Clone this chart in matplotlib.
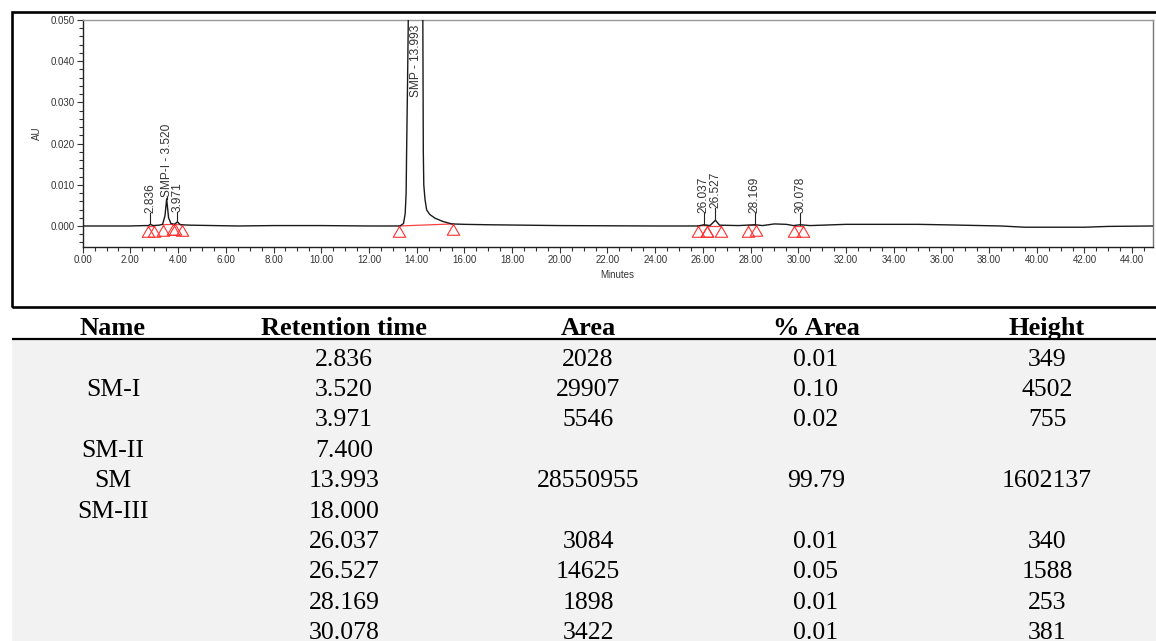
import numpy as np
import matplotlib
matplotlib.use("Agg")
import matplotlib.pyplot as plt
from matplotlib.patches import Rectangle
from matplotlib.ticker import MultipleLocator, FormatStrFormatter

W, H = 1156, 641

# detector trace (minutes, AU)
trace_t = [0.0, 1.0, 2.0, 2.6, 2.75, 2.836, 2.95, 3.2, 3.35, 3.45, 3.52, 3.60, 3.70,
           3.85, 3.971, 4.10, 4.5, 5.5, 6.5, 8.0, 10.0, 12.0, 13.3, 13.45, 13.52,
           13.56, 13.58, 13.62, 13.65, 13.8, 13.993, 14.15, 14.26, 14.28, 14.30,
           14.35, 14.42, 14.55, 14.77, 15.1, 15.47, 16.0, 17.0, 20.0, 24.0, 25.8,
           26.037, 26.3, 26.527, 26.7, 27.5, 28.169, 28.5, 29.0, 29.5, 29.8, 30.078,
           30.5, 31.5, 32.0, 35.0, 36.0, 38.5, 39.5, 42.0, 43.0, 44.86]
trace_au = [0.0, 0.0, 0.0, 0.0001, 0.0001, 0.0004, 0.0001, 0.0002, 0.0004, 0.0025,
            0.0066, 0.0020, 0.0006, 0.0004, 0.0010, 0.0003, 0.0002, 0.0001, 0.0,
            0.0001, 0.0001, 0.0, 0.0, 0.0006, 0.003, 0.008, 0.018, 0.035, 0.05,
            0.5, 1.6, 0.5, 0.05, 0.018, 0.010, 0.0065, 0.0039, 0.0028, 0.0019,
            0.0011, 0.0005, 0.0004, 0.0003, 0.0001, 0.0, 0.0, 0.0003, 0.0001,
            0.0014, 0.0002, 0.0001, 0.0003, 0.0001, 0.0005, 0.0004, 0.0001, 0.0003,
            0.0001, 0.0003, 0.0004, 0.0004, 0.0003, 0.0, -0.0003, -0.0003, -0.0001, 0.0]

# integration start / end events
int_start_t = [2.75, 3.38, 3.86, 13.27, 25.78, 26.16, 27.91, 29.82]
int_start_au = [0.0001, 0.0003, 0.0004, 0.0, 0.0, 0.0001, 0.0001, 0.0001]
int_end_t = [2.98, 3.78, 4.18, 15.54, 26.16, 26.78, 28.21, 30.20]
int_end_au = [0.0001, 0.0004, 0.0003, 0.0005, 0.0001, 0.0001, 0.0002, 0.0001]

# peak labels
peak_names = ["2.836", "SMP-I - 3.520", "3.971", "26.037", "26.527", "28.169", "30.078"]
peak_t = [2.836, 3.520, 3.971, 26.037, 26.527, 28.169, 30.078]
peak_top = [0.0004, 0.0066, 0.0010, 0.0003, 0.0014, 0.0003, 0.0003]
label_base = [0.0032, 0.0070, 0.0034, 0.0031, 0.0044, 0.0031, 0.0031]
main_name = "SMP - 13.993"
main_t = 13.993

# results table
col_names = ["Name", "Retention time", "Area", "% Area", "Height"]
names = ["", "SM-I", "", "SM-II", "SM", "SM-III", "", "", "", ""]
ret_times = ["2.836", "3.520", "3.971", "7.400", "13.993", "18.000",
             "26.037", "26.527", "28.169", "30.078"]
areas = ["2028", "29907", "5546", "", "28550955", "", "3084", "14625", "1898", "3422"]
pct_areas = ["0.01", "0.10", "0.02", "", "99.79", "", "0.01", "0.05", "0.01", "0.01"]
heights = ["349", "4502", "755", "", "1602137", "", "340", "1588", "253", "381"]


def fx(px):
    return px / W


def fy(py):
    return 1 - py / H


fig = plt.figure(figsize=(W / 100, H / 100), dpi=100)
sans = ["Liberation Sans", "DejaVu Sans"]
serif = ["Liberation Serif", "DejaVu Serif"]

# frame around the chromatogram
fig.patches.append(Rectangle((fx(12), fy(307)), fx(1170) - fx(12), fy(12) - fy(307),
                             transform=fig.transFigure, fill=False, lw=1.9,
                             edgecolor="black", zorder=5))

ax = fig.add_axes([fx(82.7), fy(247), fx(1152.7) - fx(82.7), fy(20) - fy(247)])
ax.plot(trace_t, trace_au, color="#1a1a1a", lw=1.0, zorder=3)

for t0, a0, t1, a1 in zip(int_start_t, int_start_au, int_end_t, int_end_au):
    ax.plot([t0, t1], [a0, a1], color="#ff4040", lw=0.9, zorder=2)

tri = [(0, 0), (-0.58, -1), (0.58, -1), (0, 0)]
ax.plot(int_start_t + int_end_t, int_start_au + int_end_au, ls="none", marker=tri,
        ms=15.5, mfc="none", mec="#ff3030", mew=0.8, zorder=4)

for name, t, top, base in zip(peak_names, peak_t, peak_top, label_base):
    ax.plot([t, t], [top, base], color="#222222", lw=0.8, zorder=3)
    ax.text(t, base, name, rotation=90, ha="center", va="bottom",
            fontsize=8.6, family=sans, color="#333333")
ax.text(main_t, 0.0488, main_name, rotation=90, ha="center", va="top",
        fontsize=8.6, family=sans, color="#333333")

ax.set_xlim(0, 44.86)
ax.set_ylim(-0.0051, 0.050)
ax.xaxis.set_major_locator(MultipleLocator(2))
ax.xaxis.set_minor_locator(MultipleLocator(0.5))
ax.yaxis.set_major_locator(MultipleLocator(0.01))
ax.yaxis.set_minor_locator(MultipleLocator(0.002))
ax.xaxis.set_major_formatter(FormatStrFormatter("%.2f"))
ax.yaxis.set_major_formatter(FormatStrFormatter("%.3f"))
ax.tick_params(which="both", direction="out", color="#333333", labelsize=7,
               labelcolor="#333333", width=0.8, pad=2)
ax.tick_params(which="major", length=4)
ax.tick_params(which="minor", length=3)
for lab in ax.get_xticklabels() + ax.get_yticklabels():
    lab.set_family(sans)
ax.set_xlabel("Minutes", fontsize=7, family=sans, color="#333333", labelpad=3)
ax.set_ylabel("AU", fontsize=7, family=sans, color="#333333", labelpad=6)
ax.spines["left"].set_color("#222222")
ax.spines["bottom"].set_color("#222222")
ax.spines["top"].set_color("#999999")
ax.spines["right"].set_color("#777777")
for s in ax.spines.values():
    s.set_linewidth(1.0)

# table below
tab = fig.add_axes([fx(12), fy(641), fx(1156) - fx(12), fy(307) - fy(641)])
tab.set_xlim(12, 1156)
pitch = 30.4
tab.set_ylim((641 - 356.7) / pitch, (307 - 356.7) / pitch)
tab.axis("off")
line_y = (339.3 - 356.7) / pitch
tab.add_patch(Rectangle((12, line_y), 1144, 20, facecolor="#f2f2f2",
                        edgecolor="none", zorder=0))
tab.plot([12, 1156], [line_y, line_y], color="black", lw=1.6, zorder=2)

col_x = [113, 344, 588, 816, 1047]
base_off = 0.29
for cx, cname in zip(col_x, col_names):
    tab.text(cx, -1 + base_off, cname, ha="center", va="baseline", fontsize=19,
             family=serif, weight="bold", color="black")
columns = [names, ret_times, areas, pct_areas, heights]
for cx, col in zip(col_x, columns):
    for i, val in enumerate(col):
        tab.text(cx, i + base_off, val, ha="center", va="baseline", fontsize=18.5,
                 family=serif, color="black")

fig.savefig("out.png", dpi=100)
